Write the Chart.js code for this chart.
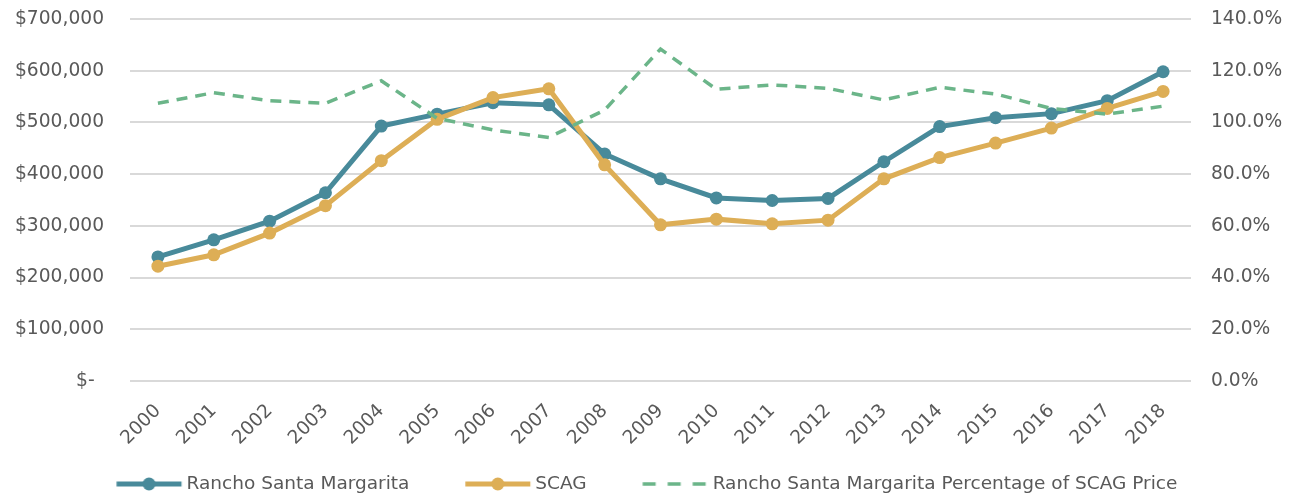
<!DOCTYPE html>
<html>
<head>
<meta charset="utf-8">
<script src="https://cdn.jsdelivr.net/npm/chart.js@4.4.1/dist/chart.umd.min.js"></script>
<style>
  html, body { margin: 0; padding: 0; background: #ffffff; }
  #wrap { width: 1296px; height: 497px; position: relative; }
</style>
</head>
<body>
<div id="wrap"><canvas id="c"></canvas></div>
<script>
const years = ['2000','2001','2002','2003','2004','2005','2006','2007','2008','2009','2010','2011','2012','2013','2014','2015','2016','2017','2018'];
const ranchoValues = [240000, 273000, 309000, 364000, 493000, 516000, 538000, 534000, 439000, 391000, 354000, 349000, 353000, 424000, 492000, 509000, 517000, 542000, 598000];
const scagValues   = [222000, 244000, 286000, 339000, 426000, 506000, 548000, 565000, 418000, 302000, 313000, 304000, 311000, 391000, 432000, 460000, 489000, 527000, 560000];
const pctValues    = [107.4, 111.5, 108.4, 107.4, 116.1, 101.6, 97.1, 94.2, 104.8, 128.4, 112.8, 114.5, 113.2, 108.7, 113.6, 111.0, 105.4, 103.2, 106.3];
const seriesNames  = ['Rancho Santa Margarita', 'SCAG', 'Rancho Santa Margarita Percentage of SCAG Price'];
const leftTicks    = [0, 100000, 200000, 300000, 400000, 500000, 600000, 700000];
const rightTicks   = [0, 20, 40, 60, 80, 100, 120, 140];

const TEAL = '#488A9A';
const GOLD = '#DDAE56';
const GREEN = '#6BB589';
const TEXT = '#595959';
const GRID = '#d9d9d9';
const FONT = 'DejaVu Sans';
const FS = 18.67;
const LFS = 18.5;

// legend geometry
const LEG_W = 88;          // box width reserved before text
const LEG_PAD = 28.7;      // spacing between legend items / above items
const ICON_LEN = 65;       // visible icon length
const ICON_GAP = 5;        // gap between icon and text
const CANVAS_W = 100;
const LEG_SHIFT = -14.65;  // recentre visible legend group
function legendIcon(color, dashed) {
  const c = document.createElement('canvas');
  c.width = CANVAS_W; c.height = 16;
  const g = c.getContext('2d');
  const textStart = LEG_W + LFS / 2;
  const iconLeft = CANVAS_W / 2 + (textStart - ICON_GAP - ICON_LEN) - LEG_W / 2;
  const x0 = iconLeft, x1 = iconLeft + ICON_LEN, y = 8;
  g.strokeStyle = color;
  g.lineCap = 'butt';
  if (dashed) {
    g.lineWidth = 3.5;
    g.setLineDash([13, 12]);
    g.beginPath(); g.moveTo(x0, y); g.lineTo(x1, y); g.stroke();
  } else {
    g.lineWidth = 5;
    g.beginPath(); g.moveTo(x0, y); g.lineTo(x1, y); g.stroke();
    g.fillStyle = color;
    g.beginPath(); g.arc((x0 + x1) / 2, y, 6.5, 0, Math.PI * 2); g.fill();
  }
  return c;
}
const icons = [legendIcon(TEAL, false), legendIcon(GOLD, false), legendIcon(GREEN, true)];

Chart.defaults.font.family = FONT;
Chart.defaults.font.size = FS;
Chart.defaults.color = TEXT;

const legendShift = {
  id: 'legendShift',
  afterLayout(chart) {
    if (chart.legend) { chart.legend.left += LEG_SHIFT; chart.legend.right += LEG_SHIFT; }
  }
};

new Chart(document.getElementById('c'), {
  type: 'line',
  plugins: [legendShift],
  data: {
    labels: years,
    datasets: [
      {
        label: seriesNames[0], data: ranchoValues, yAxisID: 'y', order: 3,
        borderColor: TEAL, backgroundColor: TEAL, borderWidth: 5,
        pointRadius: 6.5, pointBorderWidth: 0, pointBackgroundColor: TEAL, tension: 0
      },
      {
        label: seriesNames[1], data: scagValues, yAxisID: 'y', order: 2,
        borderColor: GOLD, backgroundColor: GOLD, borderWidth: 5,
        pointRadius: 6.5, pointBorderWidth: 0, pointBackgroundColor: GOLD, tension: 0
      },
      {
        label: seriesNames[2], data: pctValues, yAxisID: 'y1', order: 1,
        borderColor: GREEN, backgroundColor: GREEN, borderWidth: 3.5, borderDash: [11, 8],
        pointRadius: 0, tension: 0
      }
    ]
  },
  options: {
    responsive: true,
    maintainAspectRatio: false,
    animation: false,
    layout: { padding: { top: 19, left: 0, right: 0, bottom: 0 } },
    plugins: {
      tooltip: { enabled: false },
      legend: {
        position: 'bottom',
        maxHeight: 51,
        labels: {
          usePointStyle: true,
          pointStyleWidth: LEG_W,
          padding: LEG_PAD,
          color: TEXT,
          font: { family: FONT, size: LFS },
          sort: (a, b) => a.datasetIndex - b.datasetIndex,
          generateLabels: (chart) => {
            const items = Chart.defaults.plugins.legend.labels.generateLabels(chart);
            items.forEach(it => { it.pointStyle = icons[it.datasetIndex]; it.lineWidth = 0; });
            return items;
          }
        }
      }
    },
    scales: {
      x: {
        offset: true,
        grid: { display: false, drawTicks: false },
        border: { display: false },
        ticks: { minRotation: 45, maxRotation: 45, padding: 19, color: TEXT, font: { size: FS } },
        afterFit: (s) => { s.height = 65; }
      },
      y: {
        position: 'left',
        min: 0, max: 700000,
        afterBuildTicks: (s) => { s.ticks = leftTicks.map(v => ({ value: v })); },
        grid: { color: GRID, lineWidth: 2, drawTicks: false },
        border: { display: false },
        ticks: {
          padding: 26, color: TEXT, font: { size: FS },
          callback: (v) => v === 0 ? '$-\u2002' : '$' + v.toLocaleString('en-US')
        },
        afterFit: (s) => { s.width = 130; s.paddingTop = 0; s.paddingBottom = 0; }
      },
      y1: {
        position: 'right',
        min: 0, max: 140,
        afterBuildTicks: (s) => { s.ticks = rightTicks.map(v => ({ value: v })); },
        grid: { display: false, drawTicks: false },
        border: { display: false },
        ticks: {
          padding: 20, color: TEXT, font: { size: FS },
          callback: (v) => v.toFixed(1) + '%'
        },
        afterFit: (s) => { s.width = 105; s.paddingTop = 0; s.paddingBottom = 0; }
      }
    }
  }
});
</script>
</body>
</html>
